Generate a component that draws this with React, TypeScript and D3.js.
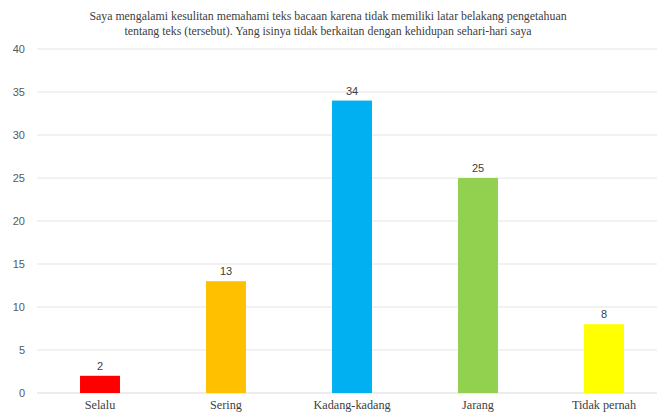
import React from "react";
import * as d3 from "d3";

const categories = ["Selalu", "Sering", "Kadang-kadang", "Jarang", "Tidak pernah"];
const values = [2, 13, 34, 25, 8];
const colors = ["#FF0000", "#FFC000", "#00B0F0", "#92D050", "#FFFF00"];
const yTicks = [0, 5, 10, 15, 20, 25, 30, 35, 40];
const titleLines = [
  "Saya mengalami kesulitan memahami teks bacaan karena tidak memiliki latar belakang pengetahuan",
  "tentang teks (tersebut). Yang isinya tidak berkaitan dengan kehidupan sehari-hari saya",
];

const W = 657;
const H = 412;

export default function App() {
  const x = d3.scaleBand<string>().domain(categories).range([37, 667]).paddingInner(0.683).paddingOuter(0.3415);
  const y = d3.scaleLinear().domain([0, 40]).range([393, 49]);

  return (
    <svg width={W} height={H} style={{ position: "absolute", left: 0, top: 0, background: "#fff" }}>
      {titleLines.map((t, i) => (
        <text key={i} x={328} y={20 + i * 15} textAnchor="middle" fontFamily="'Liberation Serif', 'Times New Roman', serif" fontSize={11.85} fill="#404040">
          {t}
        </text>
      ))}
      {yTicks.map((t) => (
        <g key={t}>
          <line x1={37} x2={W} y1={y(t)} y2={y(t)} stroke={t === 0 ? "#D9D9D9" : "#E4E4E4"} strokeWidth={1} />
          <text x={25} y={y(t)} dy="0.35em" textAnchor="end" fontFamily="'Liberation Sans', Arial, sans-serif" fontSize={11} fill="#595959">
            {t}
          </text>
        </g>
      ))}
      {categories.map((c, i) => (
        <g key={c}>
          <rect x={x(c)} y={y(values[i])} width={x.bandwidth()} height={y(0) - y(values[i])} fill={colors[i]} />
          <text x={(x(c) as number) + x.bandwidth() / 2} y={y(values[i]) - 6} textAnchor="middle" fontFamily="'Liberation Sans', Arial, sans-serif" fontSize={11} fill="#404040">
            {values[i]}
          </text>
          <text x={(x(c) as number) + x.bandwidth() / 2} y={409} textAnchor="middle" fontFamily="'Liberation Serif', 'Times New Roman', serif" fontSize={12.2} fill="#404040">
            {c}
          </text>
        </g>
      ))}
    </svg>
  );
}
